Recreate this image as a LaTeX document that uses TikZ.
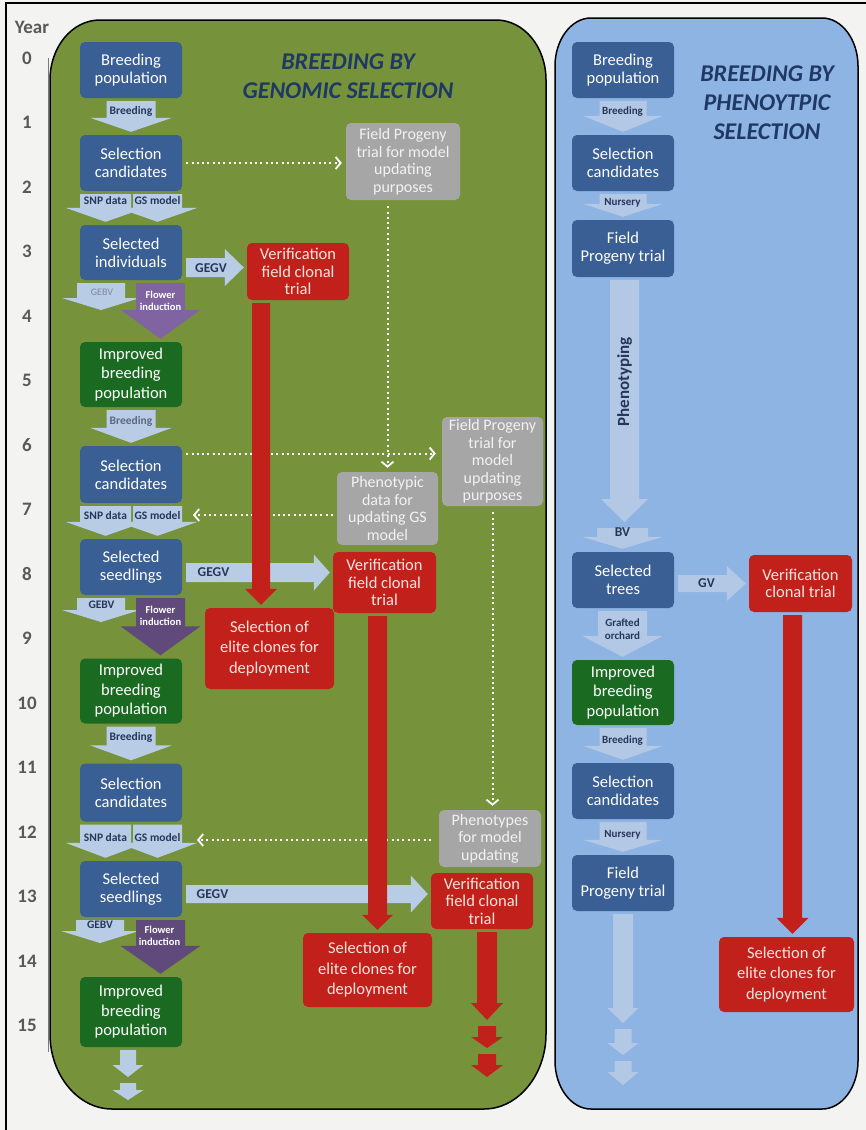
\documentclass[tikz,border=0pt]{standalone}
\usepackage{fontspec}
\setmainfont{Carlito}
\usetikzlibrary{arrows.meta,calc}
\definecolor{cbg}{HTML}{F3F3F1}
\definecolor{cgpanel}{HTML}{76933C}
\definecolor{cbpanel}{HTML}{8EB4E3}
\definecolor{cbox}{HTML}{3A5F94}
\definecolor{cgreen}{HTML}{1A6B21}
\definecolor{cred}{HTML}{C2211B}
\definecolor{credtxt}{HTML}{F8E4DE}
\definecolor{cgray}{HTML}{A6A6A6}
\definecolor{cgraytxt}{HTML}{F2F2F2}
\definecolor{clight}{HTML}{B8CCE6}
\definecolor{clightr}{HTML}{B3C8E5}
\definecolor{cpurpA}{HTML}{8064A2}
\definecolor{cpurpB}{HTML}{604A7B}
\definecolor{cnavy}{HTML}{1F3864}
\definecolor{clab}{HTML}{26365A}
\definecolor{cyear}{HTML}{595959}
% down block arrow: style, from, to, centre x, shaft half width, head half width, head length
\newcommand\DArr[7][]{%
  \fill[#1] let \p1=#2, \p2=#3 in
   ({(#4-#5)*1pt},{\y1-3pt}) -- ({(#4+#5)*1pt},{\y1-3pt})
   -- ({(#4+#5)*1pt},{\y2+3pt+#7*1pt}) -- ({(#4+#6)*1pt},{\y2+3pt+#7*1pt})
   -- ({#4*1pt},{\y2+3pt}) -- ({(#4-#6)*1pt},{\y2+3pt+#7*1pt})
   -- ({(#4-#5)*1pt},{\y2+3pt+#7*1pt}) -- cycle;}
% right block arrow: style, from, to, centre y, shaft half height, head half height, head length
\newcommand\RArr[7][]{%
  \fill[#1] let \p1=#2, \p2=#3 in
   ({\x1+4pt},{-(#4-#5)*1pt}) -- ({\x2-3pt-#7*1pt},{-(#4-#5)*1pt})
   -- ({\x2-3pt-#7*1pt},{-(#4-#6)*1pt}) -- ({\x2-3pt},{-#4*1pt})
   -- ({\x2-3pt-#7*1pt},{-(#4+#6)*1pt}) -- ({\x2-3pt-#7*1pt},{-(#4+#5)*1pt})
   -- ({\x1+4pt},{-(#4+#5)*1pt}) -- cycle;}
\begin{document}
\begin{tikzpicture}[x=1pt,y=-1pt,
  box/.style={rectangle, rounded corners=5pt, inner sep=0pt, align=center, text=white,
    font=\fontsize{16.5}{18}\selectfont, minimum width=102pt},
  bluebox/.style={box, fill=cbox},
  greenbox/.style={box, fill=cgreen, font=\fontsize{16.5}{19.5}\selectfont},
  redbox/.style={box, fill=cred, text=credtxt, font=\fontsize{16.5}{17.5}\selectfont},
  elitebox/.style={box, fill=cred, text=credtxt, font=\fontsize{16.5}{20.5}\selectfont, minimum width=129pt},
  graybox/.style={box, fill=cgray, text=cgraytxt, font=\fontsize{16}{17.5}\selectfont},
  larrow/.style={fill=clight},
  rlarrow/.style={fill=clightr},
  parrowA/.style={fill=cpurpA},
  parrowB/.style={fill=cpurpB},
  rarrow/.style={fill=cred},
  alab/.style={font=\fontsize{11.5}{12}\selectfont\bfseries, text=clab, inner sep=0pt, align=center},
  rlab/.style={font=\fontsize{11}{12.5}\selectfont\bfseries, text=clab, inner sep=0pt, align=center},
  glab/.style={font=\fontsize{13.5}{14}\selectfont\bfseries, text=clab, inner sep=0pt},
  flab/.style={font=\fontsize{10.5}{12.5}\selectfont\bfseries, text=white, inner sep=0pt, align=center},
  titletext/.style={font=\fontsize{24}{29}\selectfont\bfseries\itshape, text=cnavy, align=center, inner sep=0pt},
  yr/.style={font=\fontsize{19}{20}\selectfont\bfseries, text=cyear, inner sep=0pt},
  dotl/.style={draw=white, line width=2pt, dash pattern=on 2pt off 3.3pt,
    -{Straight Barb[length=5pt,width=12pt,line width=1.8pt]}}
]
\useasboundingbox (0,0) rectangle (866,1130);
\fill[cbg] (0,0) rectangle (866,1130);
\draw[line width=2.5pt] (6,1130) -- (6,3) -- (866,3);

% panels
\filldraw[fill=cgpanel, draw=black, line width=1.5pt]
  (50,80) .. controls (50,47) and (72,20) .. (100,20) -- (496,20)
  .. controls (524,20) and (546,47) .. (546,80) -- (546,1034)
  .. controls (546,1075) and (518,1109) .. (484,1109) -- (112,1109)
  .. controls (78,1109) and (50,1075) .. (50,1034) -- cycle;
\filldraw[fill=cbpanel, draw=black, line width=1.5pt]
  (555,66) .. controls (555,40) and (571,18) .. (591,18) -- (822,18)
  .. controls (842,18) and (858,40) .. (858,66) -- (858,1061)
  .. controls (858,1087) and (842,1109) .. (822,1109) -- (591,1109)
  .. controls (571,1109) and (555,1087) .. (555,1061) -- cycle;

% years
\draw[cyear!80, line width=0.8pt] (48,58) -- (48,1052);
\node[yr] (yY) at (32,27) {Year};
\foreach \i in {0,...,15} \node[yr] (y\i) at (27,{58+64.5*\i}) {\i};

% titles
\node[titletext] (T1) at (348,76) {BREEDING BY\\GENOMIC SELECTION};
\node[titletext] (T2) at (767,103) {BREEDING BY\\PHENOYTPIC\\SELECTION};

% boxes (genomic selection)
\node[bluebox, minimum height=56pt] (L1) at (131,70) {Breeding\\population};
\node[bluebox, minimum height=56pt] (L2) at (131,163) {Selection\\candidates};
\node[bluebox, minimum height=55pt] (L3) at (131,252.5) {Selected\\individuals};
\node[greenbox, minimum height=65pt] (L4) at (131,374.5) {Improved\\breeding\\population};
\node[bluebox, minimum height=57pt] (L5) at (131,474.5) {Selection\\candidates};
\node[bluebox, minimum height=56pt] (L6) at (131,567) {Selected\\seedlings};
\node[greenbox, minimum height=65pt] (L7) at (131,691) {Improved\\breeding\\population};
\node[bluebox, minimum height=58pt] (L8) at (131,792.5) {Selection\\candidates};
\node[bluebox, minimum height=56pt] (L9) at (131,889) {Selected\\seedlings};
\node[greenbox, minimum height=70pt] (L10) at (131,1012) {Improved\\breeding\\population};

\node[redbox, minimum height=57pt] (V1) at (298,271.5) {Verification\\field clonal\\trial};
\node[redbox, minimum width=103pt, minimum height=61pt] (V2) at (384.5,582.5) {Verification\\field clonal\\trial};
\node[redbox, minimum height=56pt] (V3) at (482,901) {Verification\\field clonal\\trial};
\node[elitebox, minimum height=81pt] (E1) at (269.5,648.5) {Selection of\\elite clones for\\deployment};
\node[elitebox, minimum height=74pt] (E2) at (367.5,970) {Selection of\\elite clones for\\deployment};
\node[graybox, minimum width=114pt, minimum height=77pt] (G1) at (403,161.5) {Field Progeny\\trial for model\\updating\\purposes};
\node[graybox, minimum width=101pt, minimum height=73pt] (G2) at (387.5,508.5) {Phenotypic\\data for\\updating GS\\model};
\node[graybox, minimum width=101pt, minimum height=89pt] (G3) at (492.5,461.5) {Field Progeny\\trial for\\model\\updating\\purposes};
\node[graybox, minimum width=102pt, minimum height=57pt] (G4) at (490,838.5) {Phenotypes\\for model\\updating};

% boxes (phenotypic selection)
\node[bluebox, minimum height=56pt] (R1) at (623,70) {Breeding\\population};
\node[bluebox, minimum height=56pt] (R2) at (623,163) {Selection\\candidates};
\node[bluebox, minimum height=57pt] (R3) at (623,248.5) {Field\\Progeny trial};
\node[bluebox, minimum height=56pt] (R4) at (623,580) {Selected\\trees};
\node[greenbox, minimum height=65pt] (R5) at (623,692.5) {Improved\\breeding\\population};
\node[bluebox, minimum height=56pt] (R6) at (623,791) {Selection\\candidates};
\node[bluebox, minimum height=56pt] (R7) at (623,883) {Field\\Progeny trial};
\node[redbox, minimum width=103pt, minimum height=57pt] (RV) at (800.5,583.5) {Verification\\clonal trial};
\node[elitebox, minimum width=135pt, minimum height=75pt] (RE) at (786.5,974.5) {Selection of\\elite clones for\\deployment};

% free ends
\coordinate (gebv1) at (101,313);
\coordinate (gebv2) at (101,625);
\coordinate (gebv3) at (100,946);
\coordinate (lend1) at (128,1080);
\coordinate (lend2) at (128,1103);
\coordinate (rend1) at (487,1023);
\coordinate (rend2) at (487,1051);
\coordinate (rend3) at (487,1080);
\coordinate (bv) at (623,525);
\coordinate (qend1) at (623,1026);
\coordinate (qend2) at (623,1058);
\coordinate (qend3) at (623,1088);
\coordinate (gsin2) at (193,515);
\coordinate (gsin3) at (197,840);

% dotted connectors
\coordinate (d1a) at (L2.east -| G1.west);
\draw[dotl] ([xshift=4pt]L2.east) -- ([xshift=-4pt]d1a);
\coordinate (d2a) at (G1.south -| G2.north);
\draw[dotl] ([yshift=-6pt]d2a) -- ([yshift=4pt]G2.north);
\coordinate (d3a) at ([yshift=21pt]L5.east);
\coordinate (d3b) at (d3a -| G3.west);
\draw[dotl] ([xshift=4pt]d3a) -- ([xshift=-6pt]d3b);
\coordinate (d4a) at ([yshift=-6.5pt]G2.west);
\draw[dotl] ([xshift=-4pt]d4a) -- (gsin2);
\coordinate (d5a) at (G3.south |- G4.north);
\draw[dotl] ([yshift=-6pt]G3.south) -- ([yshift=4pt]d5a);
\coordinate (d6a) at ([yshift=-1.5pt]G4.west);
\draw[dotl] ([xshift=-8pt]d6a) -- (gsin3);

% light block arrows, genomic side
\DArr[larrow]{(L1.south)}{(L2.north)}{131}{24.5}{41}{14}
\DArr[larrow]{(L2.south)}{(L3.north)}{157.5}{24.5}{40}{14}
\DArr[larrow]{(L2.south)}{(L3.north)}{105.5}{25.5}{40}{14}
\DArr[larrow]{(L3.south)}{(gebv1)}{101}{24}{39}{12}
\DArr[larrow]{(L4.south)}{(L5.north)}{131}{24.5}{41}{15}
\DArr[larrow]{(L5.south)}{(L6.north)}{157.5}{24.5}{40}{14}
\DArr[larrow]{(L5.south)}{(L6.north)}{105.5}{25.5}{40}{14}
\DArr[larrow]{(L6.south)}{(gebv2)}{101}{24}{39}{12}
\DArr[larrow]{(L7.south)}{(L8.north)}{131}{24.5}{41}{15}
\DArr[larrow]{(L8.south)}{(L9.north)}{157.5}{24.5}{40}{15}
\DArr[larrow]{(L8.south)}{(L9.north)}{105.5}{25.5}{40}{15}
\DArr[larrow]{(L9.south)}{(gebv3)}{100}{24}{39}{12}
\DArr[larrow]{(L10.south)}{(lend1)}{128}{8}{15.5}{12}
\DArr[larrow]{(lend1)}{(lend2)}{128}{8}{15.5}{10}
\RArr[larrow]{(L3.east)}{(V1.west)}{267.5}{9.5}{18.5}{19}
\RArr[larrow]{(L6.east)}{(V2.west)}{572.5}{9.5}{18}{16}
\RArr[larrow]{(L9.east)}{(V3.west)}{894}{9}{18.5}{17}
% flower induction
\DArr[parrowA]{(L3.south)}{(L4.north)}{160.5}{24.5}{40}{29}
\DArr[parrowB]{(L6.south)}{(L7.north)}{160.5}{24.5}{40}{29}
\DArr[parrowB]{(L9.south)}{(L10.north)}{160.5}{24.5}{40}{28}

% light block arrows, phenotypic side
\DArr[rlarrow]{(R1.south)}{(R2.north)}{623}{23.5}{40}{16}
\DArr[rlarrow]{(R2.south)}{(R3.north)}{623}{23.5}{40}{13}
\DArr[rlarrow]{(R3.south)}{(bv)}{624.5}{14.5}{23.5}{23}
\DArr[rlarrow]{(bv)}{(R4.north)}{622.5}{25.5}{40.5}{12}
\DArr[rlarrow]{(R4.south)}{(R5.north)}{622.5}{24.5}{40.5}{21}
\DArr[rlarrow]{(R5.south)}{(R6.north)}{623}{23.5}{40}{14}
\DArr[rlarrow]{(R6.south)}{(R7.north)}{623}{23.5}{40}{12}
\DArr[rlarrow]{(R7.south)}{(qend1)}{623}{10}{15.5}{15}
\DArr[rlarrow]{(qend1)}{(qend2)}{623}{8.5}{15.5}{12}
\DArr[rlarrow]{(qend2)}{(qend3)}{623}{8.5}{15.5}{13}
\RArr[rlarrow]{(R4.east)}{(RV.west)}{583.5}{8.5}{17.5}{19}

% red arrows
\DArr[rarrow]{(V1.south)}{(E1.north)}{261}{9}{16}{16}
\DArr[rarrow]{(V2.south)}{(E2.north)}{377.5}{9.5}{15.5}{15}
\DArr[rarrow]{(V3.south)}{(rend1)}{487}{10}{16}{17}
\DArr[rarrow]{(rend1)}{(rend2)}{487}{9}{16}{11}
\DArr[rarrow]{(rend2)}{(rend3)}{487}{9}{16}{12}
\DArr[rarrow]{(RV.south)}{(RE.north)}{792.5}{9.5}{16}{16}

% arrow labels
\node[alab] (lbB1) at (131,111) {Breeding};
\node[alab] (lbS1) at (105.5,201) {SNP data};
\node[alab] (lbG1) at (157.5,201) {GS model};
\node[alab, font=\fontsize{10}{11}\selectfont, text=clab!60] (lbE1) at (102,292) {GEBV};
\node[flab] (lbF1) at (160.5,301) {Flower\\induction};
\node[glab] (lbV1) at (211,268) {GEGV};
\node[alab, text=clab!75] (lbB2) at (131,421) {Breeding};
\node[alab] (lbS2) at (105.5,516) {SNP data};
\node[alab] (lbG2) at (157.5,516) {GS model};
\node[alab] (lbE2) at (101.5,605) {GEBV};
\node[flab] (lbF2) at (160.5,616) {Flower\\induction};
\node[glab] (lbV2) at (213.5,572.5) {GEGV};
\node[alab] (lbB3) at (131,737) {Breeding};
\node[alab] (lbS3) at (105.5,837) {SNP data};
\node[alab] (lbG3) at (157.5,837) {GS model};
\node[alab] (lbE3) at (100,925) {GEBV};
\node[flab] (lbF3) at (159.5,936) {Flower\\induction};
\node[glab] (lbV3) at (212.5,894.5) {GEGV};

\node[rlab] (rlB1) at (622.5,112) {Breeding};
\node[rlab] (rlN1) at (622.5,203) {Nursery};
\node[alab, font=\fontsize{17}{18}\selectfont\bfseries, rotate=90] (rlP) at (624.5,382) {Phenotyping};
\node[glab] (rlBV) at (622.5,532) {BV};
\node[rlab] (rlGO) at (622.5,629) {Grafted\\orchard};
\node[rlab] (rlB2) at (622.5,741) {Breeding};
\node[rlab] (rlN2) at (622.5,834.5) {Nursery};
\node[glab] (rlGV) at (706.5,583) {GV};
\end{tikzpicture}
\end{document}
